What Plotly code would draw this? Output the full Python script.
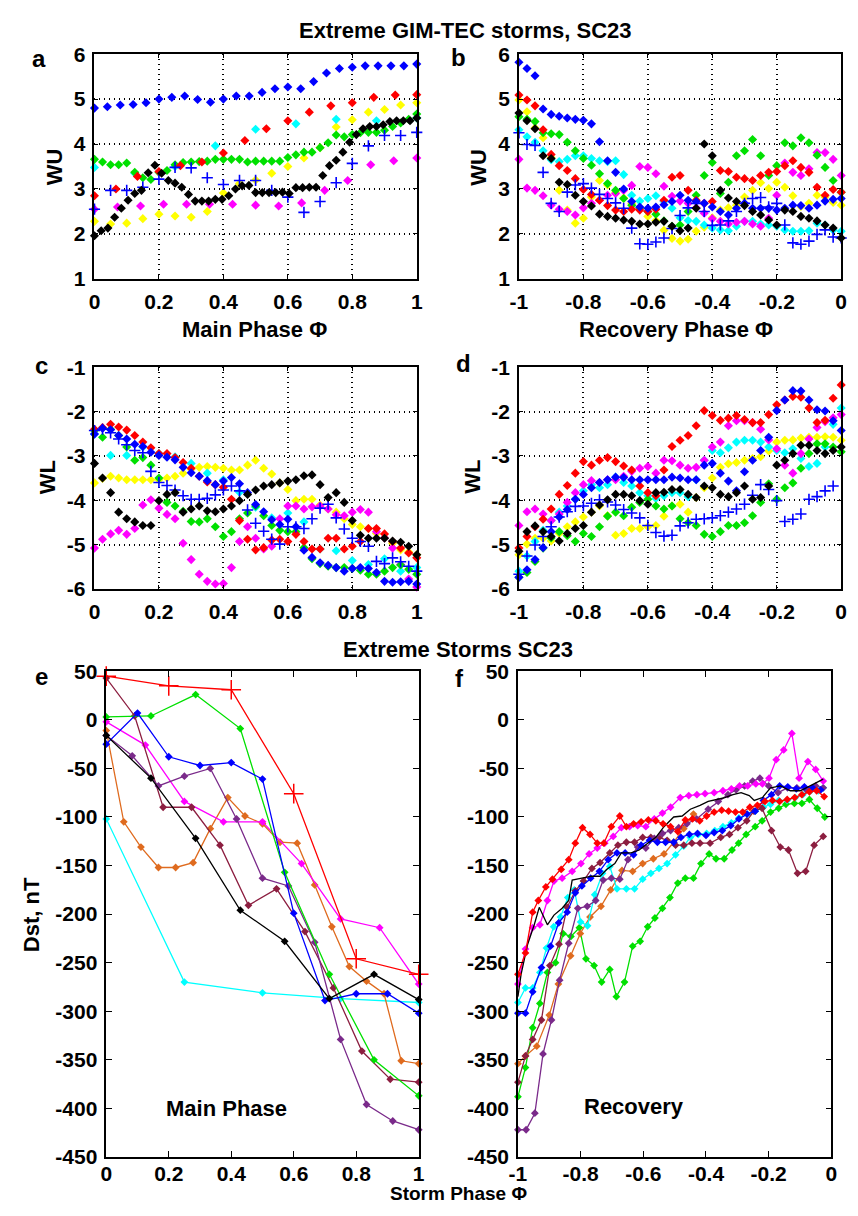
import numpy as np
import plotly.graph_objects as go

W, H = 858, 1216

# ------------------------------------------------------------------ colours
RED, GREEN, BLUE = "#FF0000", "#00E000", "#0000FF"
MAGENTA, CYAN, YELLOW, BLACK = "#FF00FF", "#00FFFF", "#FFFF00", "#000000"
ORANGE, MAROON, PURPLE = "#DF6B1F", "#8C1E40", "#7A2A8A"

# ------------------------------------------------------------------ panel a (WU, main phase)
a_blue = [4.80, 4.83, 4.87, 4.88, 4.92, 5.00, 5.04, 5.07, 4.99, 4.93, 5.00, 5.07, 5.07,
          5.15, 5.23, 5.27, 5.23, 5.39, 5.58, 5.68, 5.71, 5.74, 5.74, 5.74, 5.74, 5.78]
a_red = [2.85, 3.00, 3.28, 3.39, 3.52, 3.60, 3.80, 4.08, 4.34, 4.52, 4.71, 4.85, 4.92,
         5.04, 5.09, 5.10]
a_cyan = [3.48, 3.35, 3.50, 3.96, 4.33, 4.45, 4.55, 4.52, 4.58]
a_yellow = [2.28, 2.22, 2.24, 2.34, 2.44, 2.40, 2.37, 2.50, 2.91, 3.12, 3.20, 3.35, 3.50,
            3.69, 3.92, 4.38, 4.54, 4.71, 4.77, 4.87, 4.92]
a_magenta = [2.55, 2.60, 2.62, 2.66, 2.66, 2.66, 2.66, 2.64, 2.62, 2.69, 2.97, 3.19,
             3.54, 3.63, 3.69]
a_green = [3.66, 3.60, 3.54, 3.54, 3.58, 3.37, 3.25, 3.21, 3.37, 3.41, 3.54, 3.59, 3.60,
           3.61, 3.62, 3.66, 3.66, 3.66, 3.66, 3.60, 3.62, 3.62, 3.62, 3.62, 3.70, 3.76,
           3.82, 3.82, 3.92, 4.03, 4.20, 4.16, 4.21, 4.25, 4.26, 4.26, 4.31, 4.39, 4.47,
           4.55, 4.67]
a_black = [1.96, 2.07, 2.13, 2.37, 2.57, 2.75, 2.90, 2.97, 3.36, 3.53, 3.35, 3.19, 3.13,
           3.04, 2.88, 2.73, 2.73, 2.73, 2.77, 2.77, 2.85, 3.00, 3.07, 3.08, 2.92, 2.92,
           2.92, 2.92, 2.93, 2.90, 3.03, 3.03, 3.04, 3.04, 3.30, 3.52, 3.64, 3.82, 4.04,
           4.21, 4.34, 4.39, 4.39, 4.43, 4.50, 4.52, 4.52, 4.52, 4.58]
a_bluecross = [2.55, 2.97, 2.97, 3.04, 3.22, 3.48, 3.47, 3.25, 3.10, 3.19, 3.19, 2.97,
               2.82, 2.48, 2.72, 3.14, 3.57, 3.96, 4.19, 4.19, 4.26]

# ------------------------------------------------------------------ panel b (WU, recovery)
b_blue = [5.82, 5.68, 5.52, 4.78, 4.66, 4.62, 4.58, 4.55, 4.53, 4.45, 4.05, 3.63, 3.37,
          3.00, 2.72, 2.60, 2.57, 2.60, 2.65, 2.72, 2.86, 2.75, 2.72, 2.68, 2.60, 2.50,
          2.42, 2.57, 2.68, 2.57, 2.57, 2.57, 2.53, 2.57, 2.64, 2.63, 2.57, 2.64, 2.73,
          2.77, 2.79]
b_bluecross = [4.25, 3.99, 3.97, 3.37, 2.68, 2.50, 2.93, 3.09, 3.12, 3.02, 2.88, 2.79,
               2.69, 2.57, 2.13, 1.78, 1.77, 1.82, 1.91, 2.12, 2.41, 2.58, 2.68, 2.50,
               2.19, 2.20, 2.29, 2.50, 2.68, 2.79, 2.81, 2.60, 2.68, 2.20, 1.80, 1.77,
               1.84, 1.99, 2.09, 1.93, 1.91]
b_red = [5.09, 4.98, 4.85, 4.32, 3.77, 3.52, 3.41, 3.23, 2.99, 2.88, 2.75, 2.63, 2.53,
         2.50, 2.55, 2.53, 2.50, 2.55, 2.75, 3.26, 3.30, 2.97, 2.75, 2.68, 2.72, 3.41,
         3.39, 3.26, 3.23, 3.19, 3.30, 3.37, 3.39, 3.52, 3.63, 3.48, 3.37, 3.04, 2.86,
         2.99, 2.93]
b_yellow = [4.98, 4.72, 4.36, 4.14, 3.70, 2.97, 2.53, 2.24, 2.35, 2.82, 3.19, 3.09, 2.93,
            2.80, 2.68, 2.57, 2.39, 2.30, 2.08, 1.90, 1.84, 1.88, 2.06, 2.15, 2.36, 2.53,
            2.58, 2.64, 2.82, 2.97, 3.14, 3.01, 3.15, 3.04, 2.85, 2.61, 2.68, 2.86, 2.82,
            2.70, 2.64]
b_green = [4.61, 4.55, 4.50, 4.25, 4.23, 4.21, 4.04, 3.85, 3.68, 3.53, 3.34, 3.12, 2.97,
           2.79, 2.64, 2.58, 2.50, 2.44, 2.29, 2.17, 2.20, 2.50, 2.86, 3.30, 3.59, 2.90,
           3.15, 3.74, 3.85, 4.10, 3.74, 3.30, 3.52, 4.03, 3.96, 4.14, 4.03, 3.75, 3.48,
           3.19, 2.93]
b_magenta = [3.66, 3.02, 2.97, 2.85, 2.64, 2.55, 2.50, 2.42, 2.58, 2.68, 2.75, 2.86, 2.90,
             2.97, 3.08, 3.50, 3.48, 3.34, 3.06, 2.84, 2.73, 2.68, 2.58, 2.46, 2.34, 2.28,
             2.22, 2.26, 2.28, 2.22, 2.17, 2.35, 2.86, 3.58, 3.37, 3.30, 3.45, 3.81, 3.81,
             3.66, 3.30]
b_cyan = [4.32, 4.16, 4.04, 3.85, 3.65, 3.61, 3.66, 3.74, 3.74, 3.68, 3.63, 3.61, 3.63,
          3.32, 2.86, 2.73, 2.79, 2.85, 2.72, 2.57, 2.36, 2.30, 2.28, 2.20, 2.13, 2.09,
          2.07, 2.17, 2.28, 2.28, 2.22, 2.20, 2.17, 2.09, 2.06, 2.06, 2.07, 2.24, 2.20,
          2.09, 2.06]
b_black = [4.69, 4.52, 4.34, 3.74, 3.68, 3.15, 3.10, 2.86, 2.72, 2.62, 2.44, 2.39, 2.35,
           2.31, 2.28, 2.22, 2.22, 2.26, 2.28, 2.17, 2.07, 2.13, 2.57, 4.00, 3.74, 2.97,
           2.80, 2.72, 2.63, 2.50, 2.42, 2.31, 2.20, 2.53, 2.50, 2.39, 2.35, 2.29, 2.20,
           2.13, 1.91]

# ------------------------------------------------------------------ panel c (WL, main phase)
c_red = [-2.40, -2.36, -2.29, -2.35, -2.42, -2.54, -2.69, -2.82, -2.95, -2.95, -3.04,
         -3.15, -3.28, -3.46, -3.59, -3.65, -3.71, -3.98, -4.46, -4.88, -5.12, -5.07,
         -4.90, -4.88, -4.93, -4.77, -4.93, -5.10, -5.10, -4.86, -4.86, -5.10, -5.04,
         -4.93, -4.64, -4.64, -4.76, -4.93, -5.08, -5.19, -5.30]
c_blue = [-2.51, -2.38, -2.41, -2.54, -2.62, -2.74, -2.79, -2.92, -2.99, -3.03, -3.09,
          -3.26, -3.38, -3.46, -3.56, -3.65, -3.57, -3.49, -3.63, -3.83, -4.10, -4.26,
          -4.44, -4.55, -4.43, -4.60, -5.13, -5.29, -5.41, -5.47, -5.52, -5.60, -5.54,
          -5.52, -5.54, -5.63, -5.83, -5.85, -5.84, -5.83, -5.89]
c_bluecross = [-2.43, -2.40, -2.48, -2.62, -2.75, -2.88, -2.93, -3.35, -3.60, -3.67,
               -3.77, -3.90, -3.98, -3.98, -3.96, -3.88, -3.77, -3.68, -3.79, -4.22,
               -4.52, -4.70, -4.88, -4.99, -4.60, -4.60, -4.64, -4.42, -4.18, -4.09,
               -4.40, -4.65, -4.86, -4.93, -5.04, -5.38, -5.43, -5.30, -5.39, -5.49,
               -5.60]
c_green = [-2.43, -2.58, -2.40, -2.54, -2.80, -3.10, -3.04, -3.21, -3.50, -4.05, -4.13,
           -4.25, -4.48, -4.49, -4.42, -4.60, -4.82, -4.71, -4.42, -4.29, -4.13, -4.35,
           -4.57, -4.68, -4.71, -4.71, -5.07, -5.32, -5.43, -5.49, -5.52, -5.52, -5.54,
           -5.58, -5.67, -5.67, -5.60, -5.52, -5.46, -5.56, -5.67]
c_cyan = [-2.51, -2.99, -2.99, -2.80, -2.95, -3.02, -3.17, -3.39, -3.54, -3.82, -4.16,
          -4.40, -4.29, -4.49, -5.10, -5.14, -5.36, -5.45, -5.32, -5.60, -5.52]
c_yellow = [-3.61, -3.51, -3.46, -3.50, -3.54, -3.54, -3.54, -3.54, -3.54, -3.50, -3.46,
            -3.39, -3.30, -3.26, -3.24, -3.26, -3.28, -3.32, -3.32, -3.21, -3.10, -3.28,
            -3.41, -3.61, -3.76, -4.01, -3.98, -3.98, -4.11, -4.20, -4.27, -4.42, -4.55,
            -4.60, -4.64, -4.75, -4.85, -4.97, -5.12, -5.17, -5.23]
c_black = [-3.17, -3.50, -3.83, -4.27, -4.42, -4.49, -4.57, -4.57, -4.01, -3.87, -3.83,
           -4.27, -4.20, -4.13, -4.24, -4.26, -4.20, -4.13, -4.01, -3.87, -3.77, -3.68,
           -3.65, -3.61, -3.57, -3.54, -3.45, -3.43, -3.65, -3.94, -3.83, -4.05, -4.46,
           -4.79, -4.86, -4.86, -4.86, -4.92, -4.95, -5.04, -5.23]
c_magenta = [-5.08, -4.88, -4.76, -4.68, -4.77, -4.64, -4.11, -3.99, -4.18, -4.32, -4.42,
             -4.97, -5.34, -5.67, -5.83, -5.89, -5.88, -5.52, -4.93, -4.60, -4.86, -5.10,
             -5.04, -4.42, -4.13, -4.13, -4.20, -4.15, -4.13, -4.20, -4.33, -4.35, -4.27,
             -4.21, -4.27, -4.71, -4.85, -5.08, -5.45, -5.78, -5.96]

# ------------------------------------------------------------------ panel d (WL, recovery)
d_red = [-5.08, -4.82, -4.60, -4.43, -4.20, -3.87, -3.67, -3.39, -3.13, -3.21, -3.10,
         -3.04, -3.13, -3.23, -3.32, -3.68, -3.83, -3.90, -3.32, -2.79, -2.65, -2.54,
         -2.32, -1.98, -2.09, -2.20, -2.15, -2.09, -2.18, -2.25, -2.25, -2.07, -1.85,
         -1.74, -1.66, -1.68, -1.92, -2.25, -2.20, -1.70, -1.40]
d_blue = [-5.74, -5.57, -5.34, -5.07, -4.71, -4.38, -4.21, -3.98, -3.87, -3.72, -3.60,
          -3.54, -3.48, -3.49, -3.54, -3.54, -3.54, -3.54, -3.54, -3.48, -3.50, -3.54,
          -3.54, -3.21, -3.17, -3.39, -3.57, -3.79, -3.36, -3.10, -2.88, -2.58, -1.98,
          -1.74, -1.53, -1.54, -1.74, -1.96, -1.99, -2.21, -2.43]
d_bluecross = [-5.67, -5.26, -5.01, -4.82, -4.60, -4.38, -4.26, -4.14, -4.13, -4.07,
               -3.99, -4.04, -4.11, -4.21, -4.29, -4.40, -4.57, -4.73, -4.81, -4.79,
               -4.58, -4.51, -4.43, -4.42, -4.40, -4.35, -4.27, -4.20, -4.09, -3.89,
               -3.65, -3.76, -4.01, -4.48, -4.43, -4.31, -3.98, -3.92, -3.79, -3.68]
d_green = [-5.74, -5.63, -5.38, -5.08, -4.85, -4.71, -4.80, -4.93, -4.75, -4.82, -4.60,
           -4.36, -4.27, -4.35, -4.16, -4.05, -3.98, -4.13, -4.20, -4.13, -4.42, -4.51,
           -4.57, -4.77, -4.82, -4.71, -4.57, -4.57, -4.51, -4.35, -4.05, -3.63, -3.98,
           -3.72, -3.61, -3.28, -2.95, -2.73, -2.73, -2.80, -2.91]
d_cyan = [-5.60, -5.26, -4.93, -4.68, -4.46, -4.27, -4.13, -3.98, -3.79, -3.65, -3.72,
          -3.65, -3.48, -3.60, -3.68, -3.83, -3.90, -3.96, -3.90, -3.83, -3.83, -3.92,
          -3.54, -3.10, -2.88, -2.93, -2.82, -2.69, -2.65, -2.65, -2.69, -2.80, -2.88,
          -2.93, -2.84, -3.06, -3.24, -3.17, -2.80, -2.29, -1.92]
d_magenta = [-4.57, -4.26, -4.20, -4.31, -4.46, -4.31, -4.05, -3.83, -3.65, -3.56, -3.60,
             -3.54, -3.54, -3.46, -3.35, -3.28, -3.24, -3.39, -3.10, -3.11, -3.21, -3.28,
             -3.26, -3.10, -2.80, -2.69, -2.32, -2.21, -2.21, -2.25, -2.40, -2.64, -2.84,
             -3.21, -3.39, -2.95, -2.62, -2.36, -2.23, -2.14, -2.07]
d_yellow = [-5.23, -4.99, -4.86, -4.86, -4.92, -4.75, -4.60, -4.49, -4.38, -4.27, -4.13,
            -4.35, -4.79, -4.75, -4.64, -4.64, -4.60, -4.57, -4.36, -4.13, -4.09, -4.27,
            -3.94, -3.72, -3.50, -3.26, -3.18, -3.15, -3.10, -3.06, -3.02, -2.89, -2.69,
            -2.65, -2.64, -2.60, -2.58, -2.58, -2.57, -2.58, -2.65]
d_black = [-5.15, -4.71, -4.58, -4.71, -4.82, -4.92, -4.75, -4.64, -4.57, -4.27, -4.11,
           -3.99, -3.87, -3.87, -3.90, -4.01, -4.09, -3.83, -3.82, -3.76, -3.76, -3.87,
           -3.94, -3.68, -3.72, -3.87, -3.92, -3.83, -3.68, -3.98, -3.94, -3.68, -3.21,
           -3.10, -2.95, -2.76, -2.76, -2.88, -2.95, -2.88, -2.80]

# ------------------------------------------------------------------ panel e (Dst, main phase)
e_red_phi = [0.0, 0.2, 0.4, 0.6, 0.8, 1.0]
e_red = [45, 35, 31, -76, -246, -262]
e_green_phi = [0.0, 0.143, 0.286, 0.429, 0.571, 0.714, 0.857, 1.0]
e_green = [3, 4, 26, -9, -157, -262, -350, -387]
e_blue_phi = [0.0, 0.1, 0.2, 0.3, 0.4, 0.5, 0.6, 0.7, 0.8, 0.9, 1.0]
e_blue = [-25, 7, -38, -47, -44, -61, -199, -289, -282, -282, -302]
e_magenta_phi = [0.0, 0.125, 0.25, 0.375, 0.5, 0.625, 0.75, 0.875, 1.0]
e_magenta = [-2, -26, -84, -105, -105, -148, -205, -214, -272]
e_cyan_phi = [0.0, 0.25, 0.5, 0.75, 1.0]
e_cyan = [-102, -270, -281, -287, -291]
e_black_phi = [0.0, 0.143, 0.286, 0.429, 0.571, 0.714, 0.857, 1.0]
e_black = [-16, -60, -122, -196, -228, -287, -262, -288]
e_orange_phi = [0.0, 0.056, 0.111, 0.167, 0.222, 0.278, 0.333, 0.389, 0.444, 0.5, 0.556,
                0.611, 0.667, 0.722, 0.778, 0.833, 0.889, 0.944, 1.0]
e_orange = [-11, -105, -131, -152, -152, -147, -112, -80, -99, -107, -126, -127, -170,
            -213, -254, -269, -282, -351, -354]
e_maroon_phi = [0.0, 0.091, 0.182, 0.273, 0.364, 0.455, 0.545, 0.636, 0.727, 0.818,
                0.909, 1.0]
e_maroon = [43, 4, -90, -90, -129, -191, -174, -218, -276, -341, -370, -373]
e_purple_phi = [0.0, 0.083, 0.167, 0.25, 0.333, 0.417, 0.5, 0.583, 0.667, 0.75, 0.833,
                0.917, 1.0]
e_purple = [-16, -37, -68, -58, -50, -102, -163, -171, -229, -329, -396, -413, -422]

# ------------------------------------------------------------------ panel f (Dst, recovery)
f_red_phi = [-1, -0.976, -0.953, -0.935, -0.911, -0.89, -0.862, -0.838, -0.817, -0.794,
             -0.77, -0.747, -0.726, -0.702, -0.675, -0.654, -0.631, -0.607, -0.584,
             -0.56, -0.537, -0.513, -0.49, -0.466, -0.443, -0.42, -0.398, -0.374,
             -0.35, -0.328, -0.306, -0.283, -0.26, -0.236, -0.212, -0.188, -0.165,
             -0.141, -0.117, -0.094, -0.07, -0.047, -0.023]
f_red = [-262, -240, -198, -186, -172, -164, -154, -144, -127, -111, -118, -127, -127,
         -110, -99, -110, -107, -105, -103, -104, -107, -110, -115, -103, -102, -104,
         -99, -95, -93, -94, -95, -95, -90, -88, -84, -83, -84, -82, -80, -77, -74, -73,
         -79]
f_magenta_phi = [-1, -0.976, -0.953, -0.93, -0.906, -0.885, -0.859, -0.827, -0.799,
                 -0.773, -0.747, -0.723, -0.696, -0.67, -0.644, -0.618, -0.592, -0.565,
                 -0.539, -0.513, -0.482, -0.455, -0.429, -0.403, -0.374, -0.346, -0.319,
                 -0.293, -0.267, -0.241, -0.22, -0.199, -0.176, -0.152, -0.126, -0.103,
                 -0.075, -0.05, -0.026]
f_magenta = [-272, -236, -214, -211, -186, -166, -163, -156, -148, -138, -132, -127,
             -120, -111, -110, -109, -110, -102, -96, -90, -80, -78, -77, -76, -75, -73,
             -71, -68, -68, -66, -66, -60, -41, -31, -14, -60, -43, -51, -63]
f_cyan_phi = [-1, -0.976, -0.953, -0.93, -0.909, -0.886, -0.864, -0.841, -0.82, -0.8,
              -0.778, -0.755, -0.73, -0.707, -0.684, -0.654, -0.628, -0.602, -0.576,
              -0.55, -0.524, -0.497, -0.471, -0.45, -0.424, -0.398, -0.372, -0.346,
              -0.319, -0.295, -0.269, -0.243, -0.217, -0.194, -0.168, -0.141, -0.115,
              -0.091, -0.066, -0.042, -0.026]
f_cyan = [-291, -276, -276, -260, -235, -213, -203, -183, -175, -208, -212, -180, -158,
          -151, -174, -174, -174, -164, -158, -153, -148, -139, -130, -121, -118, -117,
          -114, -110, -106, -101, -97, -94, -90, -87, -83, -83, -80, -77, -73, -73, -70]
f_blue_phi = [-1, -0.976, -0.953, -0.925, -0.896, -0.87, -0.843, -0.817, -0.796, -0.768,
              -0.74, -0.712, -0.684, -0.658, -0.631, -0.607, -0.58, -0.555, -0.529,
              -0.503, -0.48, -0.453, -0.427, -0.4, -0.374, -0.348, -0.321, -0.295,
              -0.269, -0.243, -0.217, -0.191, -0.165, -0.139, -0.112, -0.086, -0.06,
              -0.034]
f_blue = [-302, -302, -280, -255, -233, -209, -198, -178, -171, -163, -156, -144, -137,
          -137, -139, -129, -124, -126, -126, -126, -121, -118, -117, -119, -116, -114,
          -109, -102, -97, -94, -83, -77, -68, -69, -71, -69, -70, -72]
f_black_phi = [-1, -0.99, -0.969, -0.948, -0.932, -0.906, -0.885, -0.859, -0.838, -0.827,
               -0.796, -0.764, -0.738, -0.717, -0.691, -0.67, -0.639, -0.613, -0.586,
               -0.56, -0.534, -0.503, -0.476, -0.45, -0.419, -0.393, -0.366, -0.34,
               -0.314, -0.288, -0.262, -0.246, -0.22, -0.194, -0.162, -0.131, -0.099,
               -0.073, -0.047, -0.026]
f_black = [-285, -262, -231, -211, -193, -211, -201, -194, -186, -165, -163, -161, -161,
           -154, -148, -137, -137, -134, -127, -121, -110, -100, -99, -92, -88, -84, -82,
           -80, -77, -75, -78, -83, -80, -70, -68, -73, -73, -69, -65, -61]
f_maroon_phi = [-1, -0.976, -0.953, -0.925, -0.898, -0.869, -0.843, -0.817, -0.791,
                -0.764, -0.738, -0.707, -0.681, -0.654, -0.628, -0.602, -0.576, -0.55,
                -0.524, -0.497, -0.471, -0.445, -0.419, -0.387, -0.353, -0.325, -0.298,
                -0.27, -0.247, -0.221, -0.191, -0.163, -0.137, -0.108, -0.082, -0.055,
                -0.026]
f_maroon = [-373, -346, -329, -309, -253, -231, -193, -176, -166, -153, -147, -137, -129,
            -126, -126, -121, -121, -121, -124, -129, -129, -127, -127, -127, -121, -118,
            -111, -104, -94, -91, -114, -131, -134, -158, -156, -129, -120]
f_purple_phi = [-1, -0.974, -0.946, -0.92, -0.893, -0.867, -0.838, -0.809, -0.779,
                -0.752, -0.728, -0.702, -0.675, -0.649, -0.618, -0.592, -0.565, -0.539,
                -0.513, -0.487, -0.461, -0.43, -0.393, -0.361, -0.33, -0.304, -0.277,
                -0.251, -0.228, -0.2, -0.17, -0.14, -0.11, -0.08, -0.05, -0.026]
f_purple = [-422, -422, -405, -344, -309, -268, -230, -194, -192, -186, -165, -163, -164,
            -144, -131, -132, -122, -117, -114, -111, -107, -102, -92, -84, -77, -72, -68,
            -63, -60, -68, -75, -70, -70, -72, -68, -70]
f_orange_phi = [-1, -0.976, -0.94, -0.9, -0.871, -0.832, -0.801, -0.77, -0.735, -0.704,
                -0.668, -0.634, -0.602, -0.568, -0.534, -0.503, -0.471, -0.44]
f_orange = [-354, -346, -336, -304, -272, -243, -220, -203, -192, -175, -155, -156, -148,
            -143, -138, -126, -112, -97]
f_green_phi = [-1, -0.976, -0.953, -0.93, -0.906, -0.88, -0.856, -0.831, -0.804, -0.783,
               -0.757, -0.733, -0.707, -0.686, -0.66, -0.634, -0.61, -0.586, -0.563,
               -0.539, -0.515, -0.49, -0.466, -0.44, -0.416, -0.39, -0.368, -0.342,
               -0.317, -0.296, -0.272, -0.243, -0.221, -0.194, -0.168, -0.145, -0.118,
               -0.094, -0.07, -0.045, -0.021]
f_green = [-388, -358, -317, -292, -260, -250, -220, -223, -214, -246, -253, -270, -257,
           -285, -270, -233, -228, -213, -204, -194, -183, -168, -163, -163, -148, -138,
           -143, -143, -134, -127, -118, -110, -104, -95, -91, -87, -86, -86, -82, -91,
           -100]

# ------------------------------------------------------------------ tick labels
WU_TICKS = [1, 2, 3, 4, 5, 6]
WU_LABELS = ["1", "2", "3", "4", "5", "6"]
WL_TICKS = [-6, -5, -4, -3, -2, -1]
WL_LABELS = ["-6", "-5", "-4", "-3", "-2", "-1"]
MAIN_TICKS = [0, 0.2, 0.4, 0.6, 0.8, 1]
MAIN_LABELS = ["0", "0.2", "0.4", "0.6", "0.8", "1"]
REC_TICKS = [-1, -0.8, -0.6, -0.4, -0.2, 0]
REC_LABELS = ["-1", "-0.8", "-0.6", "-0.4", "-0.2", "0"]
DST_TICKS = [50, 0, -50, -100, -150, -200, -250, -300, -350, -400, -450]
DST_LABELS = ["50", "0", "-50", "-100", "-150", "-200", "-250", "-300", "-350", "-400", "-450"]

# ------------------------------------------------------------------ helpers
FONT = "Arial, Liberation Sans, sans-serif"


def px_x(p):
    return p / W


def px_y(p):
    return 1 - p / H


fig = go.Figure()


def pts(y, x0, x1, color, ax, cross=False):
    xs = np.linspace(x0, x1, len(y))
    if cross:
        mk = dict(symbol="cross-thin", size=8, line=dict(color=color, width=1.6))
    else:
        mk = dict(symbol="diamond", size=7, color=color, line=dict(width=0))
    fig.add_trace(go.Scatter(x=xs, y=y, mode="markers", marker=mk, cliponaxis=False,
                             xaxis="x" + ax, yaxis="y" + ax, showlegend=False,
                             hoverinfo="skip"))


def line(x, y, color, ax, marker="diamond", msize=6, show_markers=True):
    if marker == "cross":
        mk = dict(symbol="cross-thin", size=14, line=dict(color=color, width=1.5))
    else:
        mk = dict(symbol="diamond", size=msize, color=color, line=dict(width=0))
    fig.add_trace(go.Scatter(x=x, y=y, mode="lines+markers" if show_markers else "lines",
                             line=dict(color=color, width=1.3), marker=mk,
                             cliponaxis=False, xaxis="x" + ax, yaxis="y" + ax,
                             showlegend=False, hoverinfo="skip"))


# a
pts(a_yellow, 0, 1, YELLOW, "")
pts(a_cyan, 0, 1, CYAN, "")
pts(a_magenta, 0, 1, MAGENTA, "")
pts(a_green, 0, 1, GREEN, "")
pts(a_red, 0, 1, RED, "")
pts(a_bluecross, 0, 1, BLUE, "", cross=True)
pts(a_blue, 0, 1, BLUE, "")
pts(a_black, 0, 1, BLACK, "")
# b
pts(b_yellow, -1, 0, YELLOW, "2")
pts(b_cyan, -1, 0, CYAN, "2")
pts(b_magenta, -1, 0, MAGENTA, "2")
pts(b_green, -1, 0, GREEN, "2")
pts(b_red, -1, 0, RED, "2")
pts(b_bluecross, -1, 0, BLUE, "2", cross=True)
pts(b_blue, -1, 0, BLUE, "2")
pts(b_black, -1, 0, BLACK, "2")
# c
pts(c_yellow, 0, 1, YELLOW, "3")
pts(c_cyan, 0, 1, CYAN, "3")
pts(c_magenta, 0, 1, MAGENTA, "3")
pts(c_green, 0, 1, GREEN, "3")
pts(c_red, 0, 1, RED, "3")
pts(c_bluecross, 0, 1, BLUE, "3", cross=True)
pts(c_blue, 0, 1, BLUE, "3")
pts(c_black, 0, 1, BLACK, "3")
# d
pts(d_yellow, -1, 0, YELLOW, "4")
pts(d_cyan, -1, 0, CYAN, "4")
pts(d_magenta, -1, 0, MAGENTA, "4")
pts(d_green, -1, 0, GREEN, "4")
pts(d_red, -1, 0, RED, "4")
pts(d_bluecross, -1, -0.025, BLUE, "4", cross=True)
pts(d_blue, -1, 0, BLUE, "4")
pts(d_black, -1, 0, BLACK, "4")
# e
line(e_cyan_phi, e_cyan, CYAN, "5")
line(e_orange_phi, e_orange, ORANGE, "5")
line(e_magenta_phi, e_magenta, MAGENTA, "5")
line(e_maroon_phi, e_maroon, MAROON, "5")
line(e_purple_phi, e_purple, PURPLE, "5")
line(e_green_phi, e_green, GREEN, "5")
line(e_blue_phi, e_blue, BLUE, "5")
line(e_black_phi, e_black, BLACK, "5")
line(e_red_phi, e_red, RED, "5", marker="cross")
# f
line(f_green_phi, f_green, GREEN, "6")
line(f_orange_phi, f_orange, ORANGE, "6")
line(f_cyan_phi, f_cyan, CYAN, "6")
line(f_maroon_phi, f_maroon, MAROON, "6")
line(f_purple_phi, f_purple, PURPLE, "6")
line(f_blue_phi, f_blue, BLUE, "6")
line(f_magenta_phi, f_magenta, MAGENTA, "6")
line(f_black_phi, f_black, BLACK, "6", show_markers=False)
line(f_red_phi, f_red, RED, "6")

TICKFONT = dict(family=FONT, size=21, color="black", weight="bold")


def axis(dom, rng, tv, tt, grid, anchor, ticklen, standoff):
    return dict(domain=dom, range=rng, tickmode="array", tickvals=tv, ticktext=tt,
                showline=True, linecolor="black", linewidth=1.5, mirror="ticks",
                ticks="inside", ticklen=ticklen, tickwidth=1.2, tickcolor="black",
                showgrid=grid, gridcolor="black", griddash="1px,4px", gridwidth=1.5,
                zeroline=False, tickfont=TICKFONT, anchor=anchor, fixedrange=True,
                ticklabelstandoff=standoff)


AX = [87, 415]
BX = [519, 847]
ABY = [43, 272]
CDY = [362, 588]
EX = [99, 417]
FX = [518, 837]
EFY = [672, 1167]


def dx(r):
    return [px_x(r[0]), px_x(r[1])]


def dy(r):
    return [px_y(r[1]), px_y(r[0])]


fig.update_layout(
    width=W, height=H, margin=dict(l=0, r=0, t=0, b=0),
    paper_bgcolor="white", plot_bgcolor="white", showlegend=False,
    font=dict(family=FONT, color="black"),
    xaxis=axis(dx(AX), [0, 1], MAIN_TICKS, MAIN_LABELS, True, "y", 4, 3),
    yaxis=axis(dy(ABY), [1, 6], WU_TICKS, WU_LABELS, True, "x", 4, 3),
    xaxis2=axis(dx(BX), [-1, 0], REC_TICKS, REC_LABELS, True, "y2", 4, 3),
    yaxis2=axis(dy(ABY), [1, 6], WU_TICKS, WU_LABELS, True, "x2", 4, 3),
    xaxis3=axis(dx(AX), [0, 1], MAIN_TICKS, MAIN_LABELS, True, "y3", 4, 3),
    yaxis3=axis(dy(CDY), [-6, -1], WL_TICKS, WL_LABELS, True, "x3", 4, 3),
    xaxis4=axis(dx(BX), [-1, 0], REC_TICKS, REC_LABELS, True, "y4", 4, 3),
    yaxis4=axis(dy(CDY), [-6, -1], WL_TICKS, WL_LABELS, True, "x4", 4, 3),
    xaxis5=axis(dx(EX), [0, 1], MAIN_TICKS, MAIN_LABELS, False, "y5", 6, -3),
    yaxis5=axis(dy(EFY), [-450, 50], DST_TICKS, DST_LABELS, False, "x5", 6, 3),
    xaxis6=axis(dx(FX), [-1, 0], REC_TICKS, REC_LABELS, False, "y6", 6, -3),
    yaxis6=axis(dy(EFY), [-450, 50], DST_TICKS, DST_LABELS, False, "x6", 6, 3),
)

ann = []


def text(t, x, y, size=22, angle=0, yanchor="middle"):
    ann.append(dict(text=t, x=px_x(x), y=px_y(y), xref="paper", yref="paper",
                    showarrow=False, textangle=angle, xanchor="center", yanchor=yanchor,
                    borderpad=0,
                    font=dict(family=FONT, size=size, color="black", weight="bold")))


text("Extreme GIM-TEC storms, SC23", 465, 19, 22)
text("Extreme Storms SC23", 457, 650, 22)
text("a", 31, 47, 24)
text("b", 458, 46, 24)
text("c", 33, 360, 24)
text("d", 463, 358, 24)
text("e", 33, 677, 24)
text("f", 459, 679, 24)
text("WU", 46, 158, 22, -90)
text("WU", 477, 158, 22, -90)
text("WL", 39, 474, 22, -90)
text("WL", 471, 474, 22, -90)
text("Main Phase \u03a6", 250, 324, 22)
text("Recovery Phase \u03a6", 679, 324, 22)
text("Dst, nT", 23, 920, 22, -90)
text("Storm Phase \u03a6", 458, 1216, 19, yanchor="bottom")
# in-plot labels positioned in data coordinates
ann.append(dict(text="Main Phase", x=0.385, y=-400, xref="x5", yref="y5", showarrow=False,
                font=dict(family=FONT, size=22, color="black", weight="bold")))
ann.append(dict(text="Recovery", x=-0.63, y=-398, xref="x6", yref="y6", showarrow=False,
                font=dict(family=FONT, size=22, color="black", weight="bold")))
fig.update_layout(annotations=ann)

fig.write_html("out.html")
